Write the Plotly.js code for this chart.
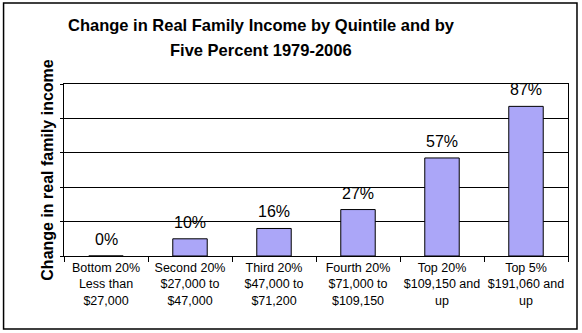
<!DOCTYPE html>
<html><head><meta charset="utf-8">
<script src="https://cdn.plot.ly/plotly-3.0.1.min.js"></script>
<style>html,body{margin:0;padding:0;background:#fff}#c{width:582px;height:333px}</style>
</head><body><div id="c"></div>
<script>
const categories = [
  "Bottom 20%<br>Less than<br>$27,000",
  "Second 20%<br>$27,000 to<br>$47,000",
  "Third 20%<br>$47,000 to<br>$71,200",
  "Fourth 20%<br>$71,000 to<br>$109,150",
  "Top 20%<br>$109,150 and<br>up",
  "Top 5%<br>$191,060 and<br>up"
];
const values = [0, 10, 16, 27, 57, 87];
const labels = ["0%", "10%", "16%", "27%", "57%", "87%"];
const titleLines = ["Change in Real Family Income by Quintile and by", "Five Percent 1979-2006"];

const L = 63.5, R = 568, T = 84, B = 256, W = 582, H = 333;
const pw = R - L, ph = B - T;
const px = v => (v - L) / pw;
const py = v => (B - v) / ph;
const FONT = 'Liberation Sans, Arial';

const trace = {
  type: 'bar', x: categories, y: values,
  marker: {color: '#ABA6F8', line: {color: '#000', width: 1}},
  width: 0.41, hoverinfo: 'none'
};
const annotations = categories.map((c, i) => ({
  x: c, y: values[i], xref: 'x', yref: 'y', text: labels[i], showarrow: false,
  yanchor: 'bottom', yshift: 6, font: {family: FONT, size: 16, color: '#000'}
}));
titleLines.forEach((t, i) => annotations.push({
  xref: 'paper', yref: 'paper', x: px(261), y: py(i === 0 ? 25 : 50),
  xanchor: 'center', yanchor: 'middle', showarrow: false,
  text: '<b>' + t + '</b>', font: {family: FONT, size: 16.5, color: '#000'}
}));
const layout = {
  width: W, height: H,
  margin: {l: L, r: W - R, t: T, b: H - B, pad: 0},
  paper_bgcolor: '#fff', plot_bgcolor: '#fff',
  font: {family: FONT, color: '#000'},
  showlegend: false,
  xaxis: {type: 'category', showline: true, mirror: true, linecolor: '#000', linewidth: 1,
    ticks: 'outside', tickson: 'boundaries', ticklen: 5, tickcolor: '#000', tickangle: 0,
    tickfont: {size: 12.5, color: '#000'}, showgrid: false, fixedrange: true},
  yaxis: {range: [0, 100], dtick: 20, showticklabels: false, ticks: 'outside', ticklen: 3,
    tickcolor: '#000', showgrid: true, gridcolor: '#000', gridwidth: 1,
    showline: true, mirror: true, linecolor: '#000', linewidth: 1, zeroline: false,
    title: {text: '<b>Change in real family income</b>', font: {size: 16, color: '#000'}, standoff: 2},
    fixedrange: true},
  annotations: annotations,
  shapes: [{type: 'rect', xref: 'paper', yref: 'paper',
    x0: px(3), x1: px(577), y0: py(329), y1: py(3),
    line: {color: '#000', width: 1.5}, fillcolor: 'rgba(0,0,0,0)', layer: 'below'}]
};
Plotly.newPlot('c', [trace], layout, {displayModeBar: false, staticPlot: true});
</script></body></html>
